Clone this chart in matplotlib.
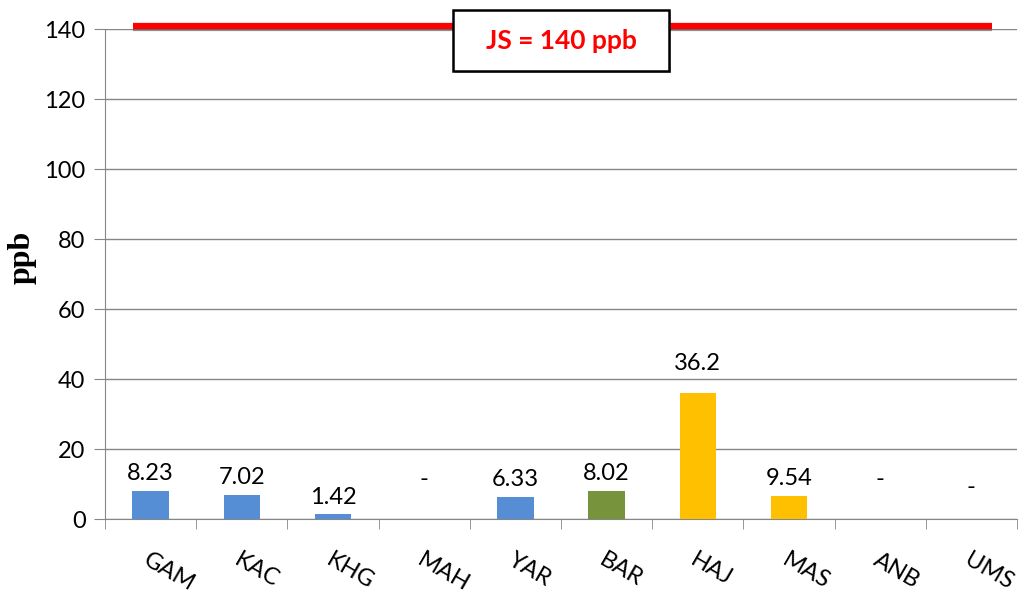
import matplotlib
matplotlib.use("Agg")
import matplotlib.pyplot as plt
import matplotlib.patheffects as pe
from matplotlib.patches import Rectangle
import numpy as np

# data
sites = ["GAM", "KAC", "KHG", "MAH", "YAR", "BAR", "HAJ", "MAS", "ANB", "UMS"]
heights = [8.0, 6.9, 1.3, 0.0, 6.3, 8.0, 36.0, 6.6, 0.0, 0.0]
labels = ["8.23", "7.02", "1.42", "-", "6.33", "8.02", "36.2", "9.54", "-", "-"]
colors = ["#558ED5", "#558ED5", "#558ED5", "#558ED5", "#558ED5",
          "#77933C", "#FFC000", "#FFC000", "#FFC000", "#FFC000"]
limit = 141
limit_text = "JS = 140 ppb"
dash_y = {"MAH": 11.4, "ANB": 11.4, "UMS": 9.1}

fig = plt.figure(figsize=(10.35, 6.05), dpi=100)
ax = fig.add_axes([0.1014, 0.1421, 0.8812, 0.8099])

x = np.arange(len(sites))
ax.bar(x, heights, width=0.4, color=colors, zorder=3)

for xi, h, lab, s in zip(x, heights, labels, sites):
    if lab == "-":
        ax.text(xi, dash_y[s], lab, ha="center", va="center",
                fontsize=17, family="Lato", color="black")
    else:
        off = 14 if h > 30 else 5
        ax.annotate(lab, (xi, h), xytext=(0, off), textcoords="offset points",
                    ha="center", va="bottom", fontsize=17, family="Lato")

# limit line
ax.plot([-0.19, 9.23], [limit, limit], color="#FF0000", lw=4.5,
        solid_capstyle="butt", zorder=4, clip_on=False,
        path_effects=[pe.SimpleLineShadow(offset=(0, -1.5), shadow_color="#555555", alpha=0.6),
                      pe.Normal()])
box = Rectangle((3.316, 128.0), 2.368, 17.4, fc="white", ec="black", lw=1.8,
                zorder=5, clip_on=False,
                path_effects=[pe.SimplePatchShadow(offset=(1.5, -1.5), alpha=0.4), pe.Normal()])
ax.add_patch(box)
ax.text(4.5, 136.6, limit_text, ha="center", va="center", fontsize=19,
        fontweight="bold", color="#FF0000", family="Lato", zorder=6)

ax.set_xlim(-0.5, len(sites) - 0.5)
ax.set_ylim(0, 140)
ax.set_yticks(np.arange(0, 141, 20))
ax.yaxis.grid(True, color="#868686", lw=1, zorder=0)
ax.tick_params(axis="y", length=8, color="#868686", labelsize=17, pad=6)
for t in ax.get_yticklabels():
    t.set_family("Lato")

ax.set_xticks(x)
ax.set_xticklabels(sites, rotation=-30, ha="left", rotation_mode="anchor",
                   fontsize=17, family="Lato")
ax.tick_params(axis="x", which="major", length=0, pad=22)
ax.set_xticks(np.arange(-0.5, len(sites)), minor=True)
ax.tick_params(axis="x", which="minor", length=7, color="#868686")

for side in ["top", "right"]:
    ax.spines[side].set_visible(False)
for side in ["left", "bottom"]:
    ax.spines[side].set_color("#868686")

ax.set_ylabel("ppb", fontsize=23, fontweight="bold", family="Liberation Serif")
ax.yaxis.set_label_coords(-0.075, 0.533)

fig.savefig("out.png", dpi=100)
